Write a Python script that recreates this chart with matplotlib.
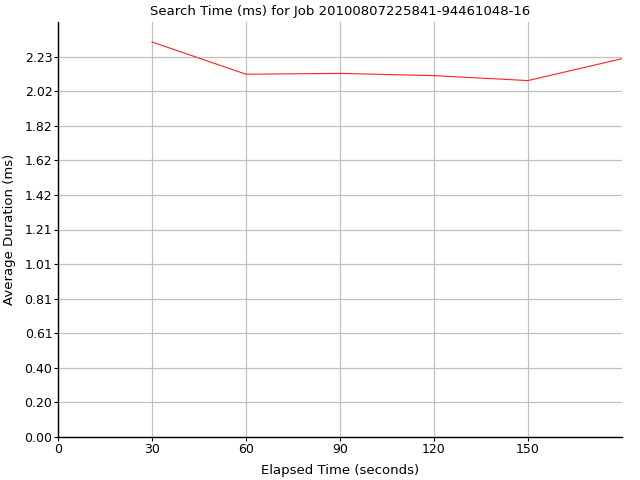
import numpy as np
import matplotlib
matplotlib.use('Agg')
import matplotlib.pyplot as plt

# data
elapsed = [30, 60, 90, 120, 150, 180]
avg_ms = [2.312, 2.123, 2.128, 2.115, 2.086, 2.214]

x_ticks = [0, 30, 60, 90, 120, 150]
y_step = 0.2024
y_ticks = [i * y_step for i in range(12)]

fig = plt.figure(figsize=(6.4, 4.8), dpi=100)
ax = fig.add_axes([58 / 640, 1 - 437 / 480, (622 - 58) / 640, (437 - 22) / 480])

ax.plot(elapsed, avg_ms, color='#ff2020', linewidth=0.8)

ax.set_xlim(0, 180)
ax.set_ylim(0, 12 * y_step)
ax.set_xticks(x_ticks)
ax.set_yticks(y_ticks)
ax.set_yticklabels(['%.2f' % v for v in y_ticks])

ax.grid(True, color='#c0c0c0', linewidth=0.9)
ax.set_axisbelow(True)
for s in ['top', 'right']:
    ax.spines[s].set_visible(False)
for s in ['left', 'bottom']:
    ax.spines[s].set_color('black')
    ax.spines[s].set_linewidth(1.0)
ax.tick_params(direction='out', length=3, width=0.8, labelsize=9, pad=1)

ax.set_title('Search Time (ms) for Job 20100807225841-94461048-16', fontsize=9.5, pad=5)
ax.set_xlabel('Elapsed Time (seconds)', fontsize=9.5, labelpad=6)
ax.set_ylabel('Average Duration (ms)', fontsize=9.5, labelpad=6)

fig.savefig('out.png', dpi=100)
